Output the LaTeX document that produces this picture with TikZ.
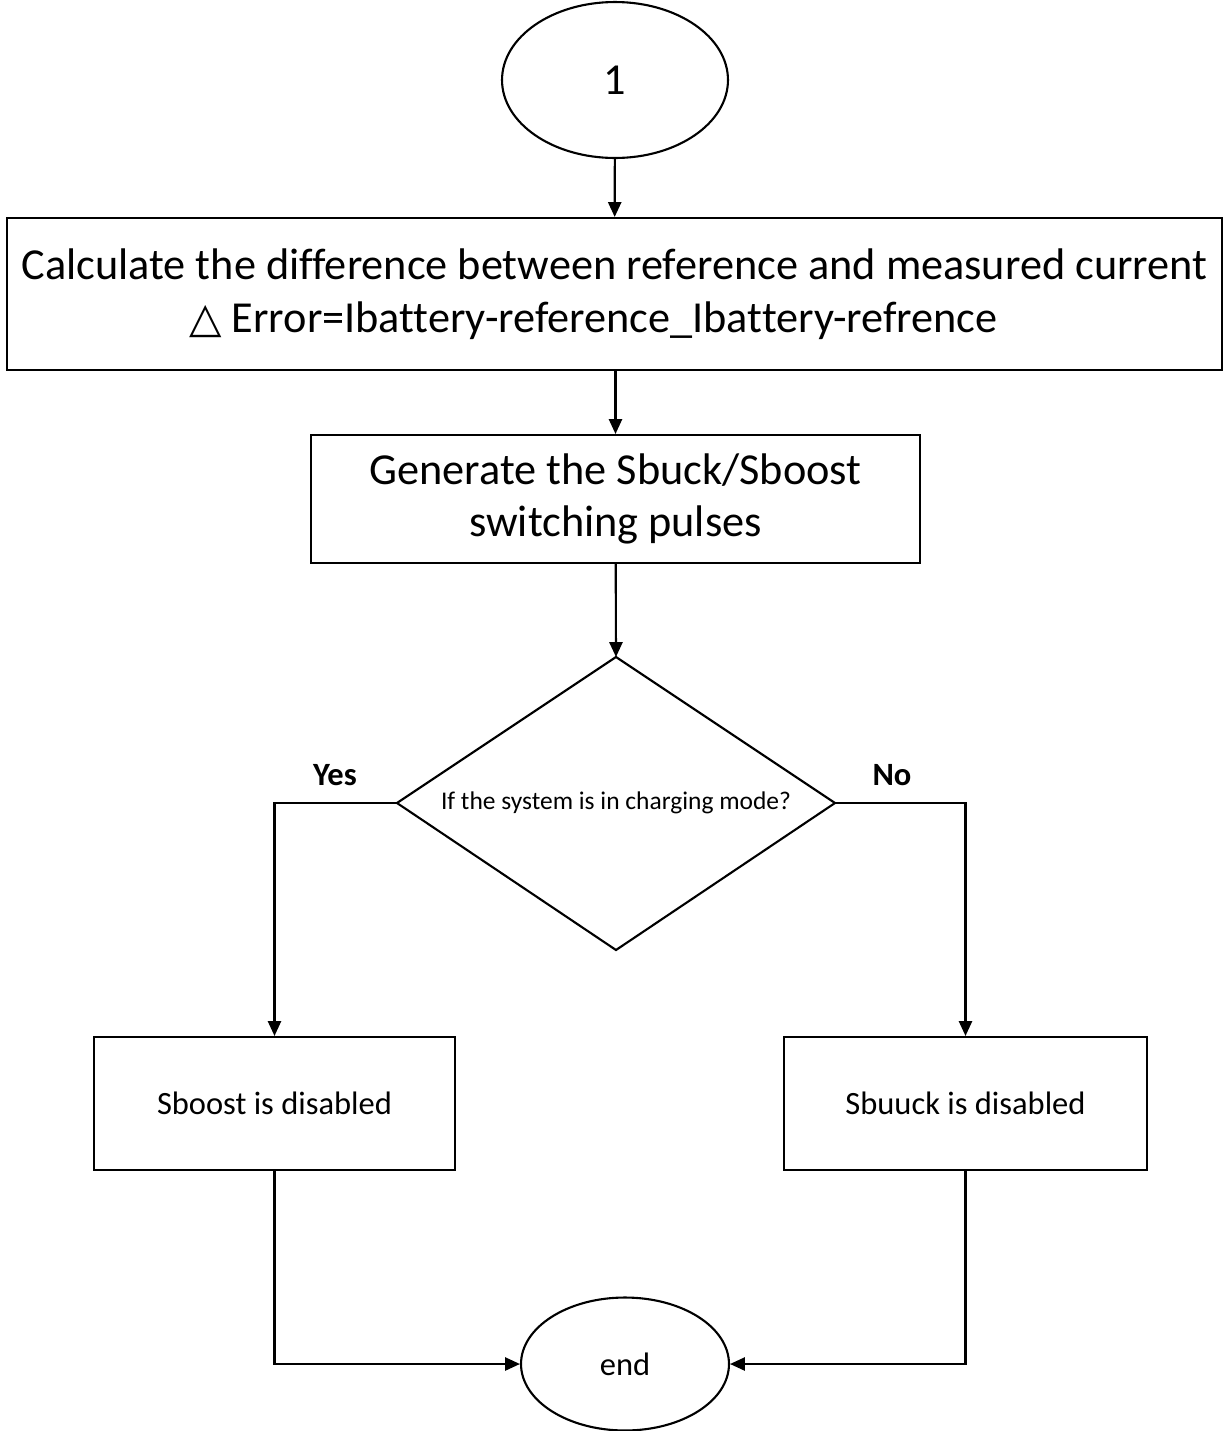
\documentclass[tikz,border=0pt]{standalone}
\usepackage{fontspec}
\setmainfont{Carlito}[Ligatures={NoCommon}]
\newfontfamily\symfont{DejaVu Sans}
\usetikzlibrary{shapes.geometric,arrows.meta}
\begin{document}
\begin{tikzpicture}[x=0.02cm,y=-0.02cm,
  line width=1.2pt,
  bigtext/.style={font=\fontsize{25.2}{30}\selectfont},
  smalltext/.style={font=\fontsize{18.5}{22}\selectfont},
  box/.style={draw,rectangle,inner sep=0pt,align=center},
  oval/.style={draw,ellipse,inner sep=0pt},
  flow/.style={-{Triangle[length=8.5pt,width=7.5pt]}},
  lbl/.style={font=\fontsize{18.5}{22}\selectfont\bfseries}]
\useasboundingbox (0,0) rectangle (1225,1431);

% start connector
\node[oval,bigtext,minimum width=4.52cm,minimum height=3.12cm] (start) at (615,80) {1};

% error computation
\node[box,bigtext,minimum width=24.3cm,minimum height=3.04cm] (calc) at (614.5,294)
  {Calculate the difference between reference and measured current\\
   {\symfont\fontsize{24}{30}\selectfont △} Error=Ibattery-reference\_Ibattery-refrence\hspace*{24pt}};

% pulse generation
\node[box,bigtext,minimum width=12.18cm,minimum height=2.56cm] (gen) at (615.5,499)
  {Generate the Sbuck/Sboost\\switching pulses};

% mode check: diamond drawn from its four corners
\coordinate (dtop) at (616,657);
\coordinate (dright) at (835,803);
\coordinate (dbot) at (616,950);
\coordinate (dleft) at (397,803);
\draw (dtop) -- (dright) -- (dbot) -- (dleft) -- cycle;
\node[font=\fontsize{14.5}{17}\selectfont] (dec) at (616,803)
  {If the system is in charging mode?};

% outcomes
\node[box,smalltext,minimum width=7.22cm,minimum height=2.66cm] (boost) at (274.5,1103.5)
  {Sboost is disabled};
\node[box,smalltext,minimum width=7.26cm,minimum height=2.66cm] (buck) at (965.5,1103.5)
  {Sbuuck is disabled};

% terminal
\node[oval,smalltext,minimum width=4.16cm,minimum height=2.66cm] (stop) at (625,1364) {end};

% branch labels
\node[lbl] (yes) at (335,775) {Yes};
\node[lbl] (no) at (892,775) {No};

% connectors
\draw[flow] (start) -- (calc);
\draw[flow] (calc.south -| gen.north) -- (gen.north);
\draw[flow] (gen) -- (dtop);
\draw[flow] (dleft) -| (boost.north);
\draw[flow] (dright) -| (buck.north);
\draw[flow] (boost.south) |- (stop.west);
\draw[flow] (buck.south) |- (stop.east);
\end{tikzpicture}
\end{document}
